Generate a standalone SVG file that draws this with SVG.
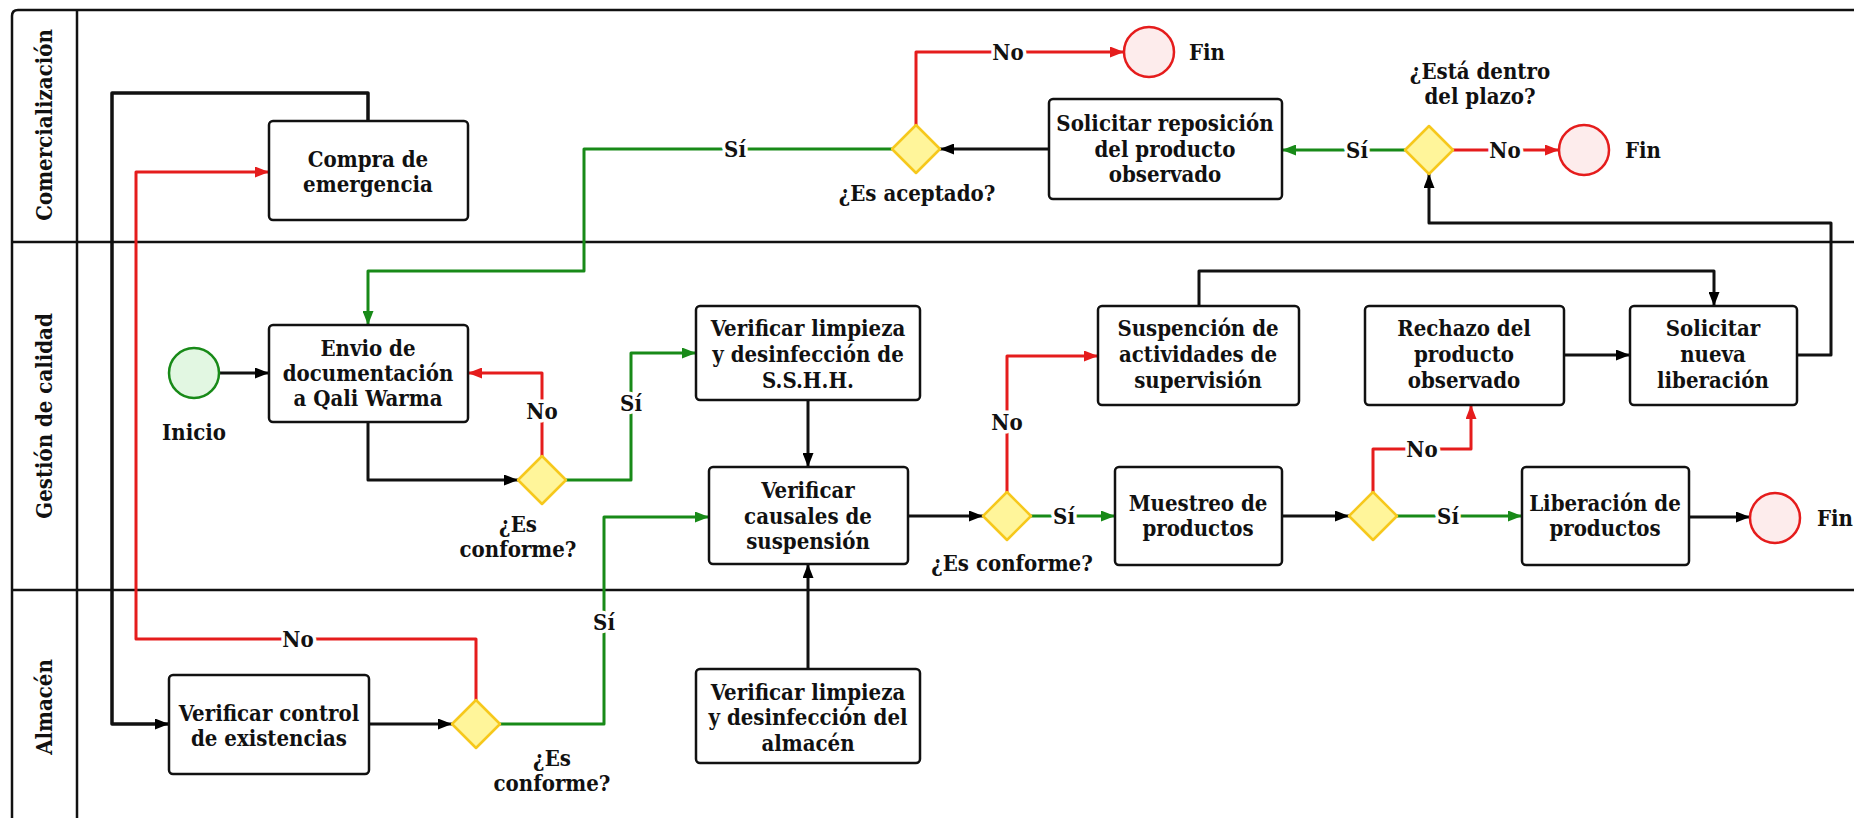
<svg xmlns="http://www.w3.org/2000/svg" width="1854" height="818" viewBox="0 0 1854 818">
  <defs>
    <marker id="arrow-black" viewBox="0 0 14 11" refX="14" refY="5.5" markerWidth="14" markerHeight="11" markerUnits="userSpaceOnUse" orient="auto">
      <path d="M0,0 L14,5.5 L0,11 Z" fill="#000"/>
    </marker>
    <marker id="arrow-red" viewBox="0 0 14 11" refX="14" refY="5.5" markerWidth="14" markerHeight="11" markerUnits="userSpaceOnUse" orient="auto">
      <path d="M0,0 L14,5.5 L0,11 Z" fill="#e51c1c"/>
    </marker>
    <marker id="arrow-green" viewBox="0 0 14 11" refX="14" refY="5.5" markerWidth="14" markerHeight="11" markerUnits="userSpaceOnUse" orient="auto">
      <path d="M0,0 L14,5.5 L0,11 Z" fill="#188a18"/>
    </marker>
  </defs>
  <style>
    text { font-family: "DejaVu Serif Condensed", "DejaVu Serif", "Liberation Serif", serif; font-stretch: condensed; font-weight: bold; font-size: 22px; fill: #111; }
    .c { text-anchor: middle; }
    .lane { stroke: #111; stroke-width: 2.5; fill: none; }
    .task { fill: #fff; stroke: #111; stroke-width: 2.5; }
    .gate { fill: #fff59a; stroke: #f6c81c; stroke-width: 2.5; stroke-linejoin: round; }
    .start { fill: #e2f7e2; stroke: #188a18; stroke-width: 2.5; }
    .end { fill: #fdecec; stroke: #e51c1c; stroke-width: 2.5; }
    .flow { fill: none; stroke-width: 3; stroke-linejoin: round; }
    .k { stroke: #111; marker-end: url(#arrow-black); }
    .r { stroke: #e51c1c; marker-end: url(#arrow-red); }
    .g { stroke: #188a18; marker-end: url(#arrow-green); }
    .lbl { text-anchor: middle; dominant-baseline: central; paint-order: stroke; stroke: #fff; stroke-width: 7px; stroke-linejoin: round; }
  </style>

  <rect width="1854" height="818" fill="#fff"/>

  <!-- swimlane pool -->
  <g id="pool">
    <path class="lane" d="M12,830 V16 Q12,10 18,10 H1860"/>
    <path class="lane" d="M77,10 V830"/>
    <path class="lane" d="M12,242 H1860"/>
    <path class="lane" d="M12,590 H1860"/>
    <text class="c" transform="translate(52,125) rotate(-90)">Comercialización</text>
    <text class="c" transform="translate(52,416) rotate(-90)">Gestión de calidad</text>
    <text class="c" transform="translate(52,707) rotate(-90)">Almacén</text>
  </g>

  <!-- connectors -->
  <g id="connectors">
    <path class="flow k" d="M219,373 H269"/>
    <path class="flow k" d="M368,422 V480 H518"/>
    <path class="flow r" d="M542,456 V373 H468"/>
    <path class="flow g" d="M566,480 H631 V353 H696"/>
    <path class="flow k" d="M808,400 V467"/>
    <path class="flow g" d="M500,724 H604 V517 H709"/>
    <path class="flow k" d="M808,669 V564"/>
    <path class="flow k" d="M908,516 H983"/>
    <path class="flow r" d="M1007,492 V356 H1098"/>
    <path class="flow g" d="M1031,516 H1115"/>
    <path class="flow k" d="M1199,306 V271 H1714 V306"/>
    <path class="flow k" d="M1282,516 H1349"/>
    <path class="flow r" d="M1373,492 V449 H1471 V405"/>
    <path class="flow g" d="M1397,516 H1522"/>
    <path class="flow k" d="M1689,517 H1750"/>
    <path class="flow k" d="M1564,355 H1630"/>
    <path class="flow k" d="M1797,355 H1831 V223 H1429 V174"/>
    <path class="flow g" d="M1405,150 H1282"/>
    <path class="flow r" d="M1453,150 H1559"/>
    <path class="flow k" d="M1049,149 H940"/>
    <path class="flow r" d="M916,125 V52 H1124"/>
    <path class="flow g" d="M892,149 H584 V271 H368 V325"/>
    <path class="flow k" d="M368,121 V93 H112 V724 H169" style="stroke-width:3.5"/>
    <path class="flow r" d="M476,700 V639 H136 V172 H269"/>
    <path class="flow k" d="M369,724 H452"/>

    <text class="lbl" x="1008" y="52">No</text>
    <text class="lbl" x="735" y="149">Sí</text>
    <text class="lbl" x="1357" y="150">Sí</text>
    <text class="lbl" x="1505" y="150">No</text>
    <text class="lbl" x="542" y="411">No</text>
    <text class="lbl" x="631" y="403">Sí</text>
    <text class="lbl" x="1007" y="422">No</text>
    <text class="lbl" x="1064" y="516">Sí</text>
    <text class="lbl" x="1422" y="449">No</text>
    <text class="lbl" x="1448" y="516">Sí</text>
    <text class="lbl" x="298" y="639">No</text>
    <text class="lbl" x="604" y="622">Sí</text>
  </g>

  <!-- events -->
  <g id="inicio">
    <circle class="start" cx="194" cy="373" r="25"/>
    <text class="c" x="194" y="440">Inicio</text>
  </g>
  <g id="fin-aceptado">
    <circle class="end" cx="1149" cy="52" r="25"/>
    <text x="1189" y="60">Fin</text>
  </g>
  <g id="fin-plazo">
    <circle class="end" cx="1584" cy="150" r="25"/>
    <text x="1625" y="158">Fin</text>
  </g>
  <g id="fin-liberacion">
    <circle class="end" cx="1775" cy="518" r="25"/>
    <text x="1817" y="526">Fin</text>
  </g>

  <!-- tasks -->
  <g id="compra-emergencia">
    <rect class="task" x="269" y="121" width="199" height="99" rx="4"/>
    <text class="c" x="368" y="167">Compra de</text>
    <text class="c" x="368" y="192">emergencia</text>
  </g>
  <g id="solicitar-reposicion">
    <rect class="task" x="1049" y="99" width="233" height="100" rx="4"/>
    <text class="c" x="1165" y="131">Solicitar reposición</text>
    <text class="c" x="1165" y="157">del producto</text>
    <text class="c" x="1165" y="182">observado</text>
  </g>
  <g id="envio-documentacion">
    <rect class="task" x="269" y="325" width="199" height="97" rx="4"/>
    <text class="c" x="368" y="356">Envio de</text>
    <text class="c" x="368" y="381">documentación</text>
    <text class="c" x="368" y="406">a Qali Warma</text>
  </g>
  <g id="verificar-sshh">
    <rect class="task" x="696" y="306" width="224" height="94" rx="4"/>
    <text class="c" x="808" y="336">Verificar limpieza</text>
    <text class="c" x="808" y="362">y desinfección de</text>
    <text class="c" x="808" y="388">S.S.H.H.</text>
  </g>
  <g id="verificar-causales">
    <rect class="task" x="709" y="467" width="199" height="97" rx="4"/>
    <text class="c" x="808" y="498">Verificar</text>
    <text class="c" x="808" y="524">causales de</text>
    <text class="c" x="808" y="549">suspensión</text>
  </g>
  <g id="suspencion-actividades">
    <rect class="task" x="1098" y="306" width="201" height="99" rx="4"/>
    <text class="c" x="1198" y="336">Suspención de</text>
    <text class="c" x="1198" y="362">actividades de</text>
    <text class="c" x="1198" y="388">supervisión</text>
  </g>
  <g id="muestreo-productos">
    <rect class="task" x="1115" y="467" width="167" height="98" rx="4"/>
    <text class="c" x="1198" y="511">Muestreo de</text>
    <text class="c" x="1198" y="536">productos</text>
  </g>
  <g id="rechazo-producto">
    <rect class="task" x="1365" y="306" width="199" height="99" rx="4"/>
    <text class="c" x="1464" y="336">Rechazo del</text>
    <text class="c" x="1464" y="362">producto</text>
    <text class="c" x="1464" y="388">observado</text>
  </g>
  <g id="solicitar-nueva-liberacion">
    <rect class="task" x="1630" y="306" width="167" height="99" rx="4"/>
    <text class="c" x="1713" y="336">Solicitar</text>
    <text class="c" x="1713" y="362">nueva</text>
    <text class="c" x="1713" y="388">liberación</text>
  </g>
  <g id="liberacion-productos">
    <rect class="task" x="1522" y="467" width="167" height="98" rx="4"/>
    <text class="c" x="1605" y="511">Liberación de</text>
    <text class="c" x="1605" y="536">productos</text>
  </g>
  <g id="verificar-existencias">
    <rect class="task" x="169" y="675" width="200" height="99" rx="4"/>
    <text class="c" x="269" y="721">Verificar control</text>
    <text class="c" x="269" y="746">de existencias</text>
  </g>
  <g id="verificar-almacen">
    <rect class="task" x="696" y="669" width="224" height="94" rx="4"/>
    <text class="c" x="808" y="700">Verificar limpieza</text>
    <text class="c" x="808" y="725">y desinfección del</text>
    <text class="c" x="808" y="751">almacén</text>
  </g>

  <!-- gateways -->
  <g id="gw-aceptado">
    <path class="gate" d="M916,125 L940,149 L916,173 L892,149 Z"/>
    <text class="c" x="917" y="201">¿Es aceptado?</text>
  </g>
  <g id="gw-plazo">
    <path class="gate" d="M1429,126 L1453,150 L1429,174 L1405,150 Z"/>
    <text class="c" x="1480" y="79">¿Está dentro</text>
    <text class="c" x="1480" y="104">del plazo?</text>
  </g>
  <g id="gw-documentacion">
    <path class="gate" d="M542,456 L566,480 L542,504 L518,480 Z"/>
    <text class="c" x="518" y="532">¿Es</text>
    <text class="c" x="518" y="557">conforme?</text>
  </g>
  <g id="gw-causales">
    <path class="gate" d="M1007,492 L1031,516 L1007,540 L983,516 Z"/>
    <text class="c" x="1012" y="571">¿Es conforme?</text>
  </g>
  <g id="gw-muestreo">
    <path class="gate" d="M1373,492 L1397,516 L1373,540 L1349,516 Z"/>
  </g>
  <g id="gw-existencias">
    <path class="gate" d="M476,700 L500,724 L476,748 L452,724 Z"/>
    <text class="c" x="552" y="766">¿Es</text>
    <text class="c" x="552" y="791">conforme?</text>
  </g>
</svg>
